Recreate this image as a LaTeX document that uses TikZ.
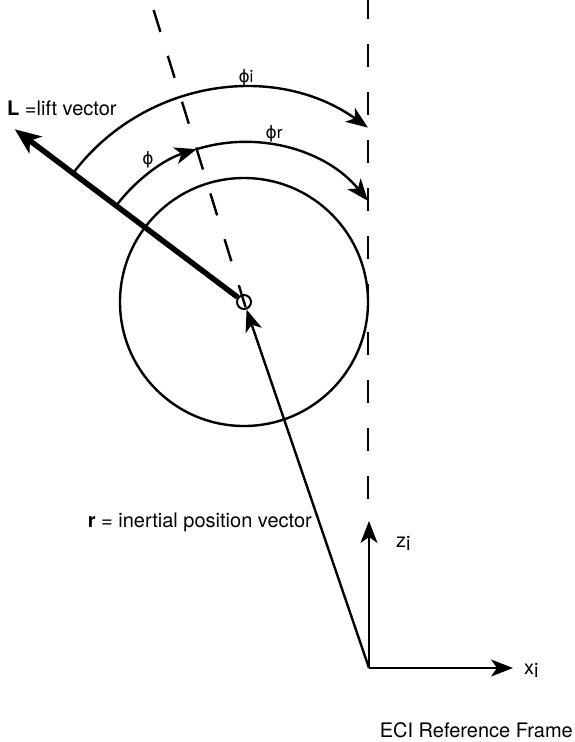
\documentclass[tikz,border=0pt]{standalone}
\usepackage{fontspec}
\setmainfont{TeX Gyre Heros}
\newfontfamily\greekfont{DejaVu Sans}
\usetikzlibrary{arrows.meta}
\begin{document}
\begin{tikzpicture}[x=1pt,y=-1pt,
  ln/.style={line width=2.4pt},
  tipA/.style={-{Stealth[length=22pt,width=17pt,inset=6pt]}},
  lbl/.style={font=\fontsize{20}{24}\selectfont, inner sep=0pt},
  philbl/.style={font=\fontsize{17}{20}\selectfont, inner sep=0pt},
  dashline/.style={line width=2.4pt, dash pattern=on 23pt off 25pt}]
\useasboundingbox (0,0) rectangle (574,742);
\coordinate (C) at (244,302);
\coordinate (O) at (369,668);
\coordinate (Z) at (369,521);
\coordinate (X) at (513,668);
\coordinate (Ltip) at ([shift={(143:287pt)}]C);
\coordinate (Dtop) at ([shift={(107.2:305.7pt)}]C);
\coordinate (Dbot) at ([shift={(287.2:10pt)}]C);
\coordinate (Vtop) at (368,-4);
\coordinate (Vbot) at (368,499);
% big circle and centre marker
\draw[ln] (C) circle[radius=124pt];
\node[circle, draw, line width=2pt, minimum size=14pt, inner sep=0pt] (o) at (C) {};
% dashed lines
\draw[dashline] (Dtop) -- (Dbot);
\draw[dashline] (Vtop) -- (Vbot);
% lift vector
\draw[line width=5.5pt, -{Stealth[length=26pt,width=21pt,inset=7pt]}] (o) -- (Ltip);
% position vector
\draw[ln, tipA] (O) -- (o);
% axes
\draw[ln, tipA] (O) -- (Z);
\draw[ln, tipA] (O) -- (X);
% angle arcs
\draw[ln, tipA] ([shift={(143:214pt)}]C) arc[start angle=143, end angle=54.6, radius=214pt];
\draw[ln, tipA] ([shift={(143:160pt)}]C) arc[start angle=143, end angle=107.2, radius=160pt];
\draw[ln, tipA] ([shift={(107.2:160pt)}]C) arc[start angle=107.2, end angle=39.2, radius=160pt];
% labels
\node[philbl] (phii) at (246,78) {{\greekfont ϕ}i};
\node[philbl] (phir) at (274,134) {{\greekfont ϕ}r};
\node[philbl] (phi) at (148,160) {{\greekfont ϕ}};
\node[lbl, anchor=base west] (Llab) at (7,115) {\textbf{L} =lift vector};
\node[lbl, anchor=base east] (rlab) at (312,527) {\textbf{r} = inertial position vector};
\node[lbl, anchor=west] (zlab) at (396,543) {z\raisebox{-3pt}{i}};
\node[lbl, anchor=west] (xlab) at (524,670) {x\raisebox{-3pt}{i}};
\node[lbl, anchor=base east] (eci) at (573,737) {ECI Reference Frame};
\end{tikzpicture}
\end{document}
